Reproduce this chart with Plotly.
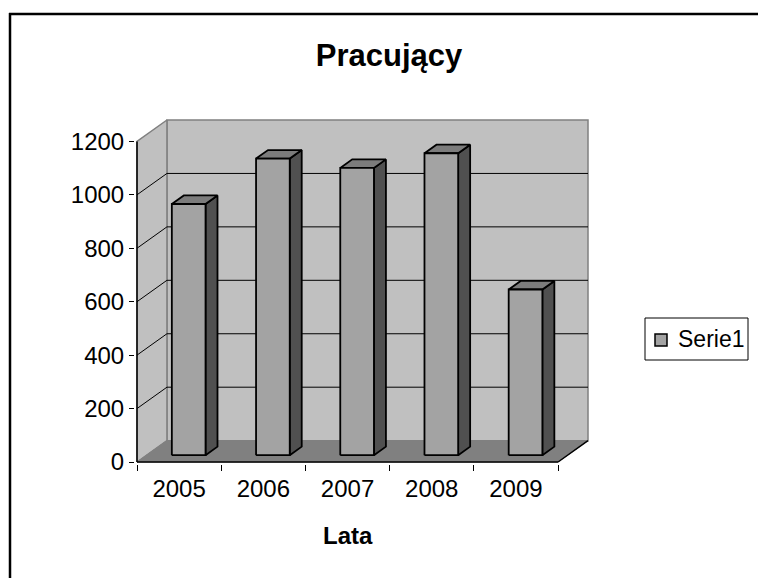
import plotly.graph_objects as go

# Data
years = ["2005", "2006", "2007", "2008", "2009"]
employed = [940, 1110, 1075, 1130, 620]
y_ticks = [0, 200, 400, 600, 800, 1000, 1200]
series_name = "Serie1"
chart_title = "Pracujący"
x_title = "Lata"

# Oblique 3D projection (in data units): depth shift of the back plane
DX = 0.3555          # x shift of the back wall, in category units
DY = 80.0            # y shift of the back wall, in value units
YMAX = 1200
N = len(years)
HALF_W = 0.2         # half bar width
F0, F1 = 0.32, 0.72  # bar depth (fraction of floor depth)

FONT = "Liberation Sans, Arial, sans-serif"

# Pixel layout of the plot area
W, H = 758, 578
PX_LEFT, PX_RIGHT = 137, 588      # x = 0 .. N + DX
PX_BOTTOM, PX_TOP = 462, 120      # y = 0 .. YMAX + DY
sx = (PX_RIGHT - PX_LEFT) / (N + DX)
sy = (PX_BOTTOM - PX_TOP) / (YMAX + DY)
PAD = 2.0
pad_x, pad_y = PAD / sx, PAD / sy
x_range = [-pad_x, N + DX + pad_x]
y_range = [-pad_y, YMAX + DY + pad_y]
m_l = PX_LEFT - PAD
m_t = PX_TOP - PAD
plot_w = (x_range[1] - x_range[0]) * sx
plot_h = (y_range[1] - y_range[0]) * sy
m_r = W - m_l - plot_w
m_b = H - m_t - plot_h


def poly(points):
    xs = [p[0] for p in points] + [points[0][0], None]
    ys = [p[1] for p in points] + [points[0][1], None]
    return xs, ys


def seg(xs, ys, a, b):
    xs += [a[0], b[0], None]
    ys += [a[1], b[1], None]


def to_paper_x(p):
    return (p - m_l) / plot_w


def to_paper_y(p):
    return (H - m_b - p) / plot_h


fig = go.Figure()

# Walls and floor
bx, by = poly([(DX, DY), (N + DX, DY), (N + DX, YMAX + DY), (DX, YMAX + DY)])
fig.add_trace(go.Scatter(x=bx, y=by, mode="lines", fill="toself", fillcolor="#C0C0C0",
                         line=dict(color="#808080", width=1.5), hoverinfo="skip", showlegend=False))
sxs, sys_ = poly([(0, 0), (DX, DY), (DX, YMAX + DY), (0, YMAX)])
fig.add_trace(go.Scatter(x=sxs, y=sys_, mode="lines", fill="toself", fillcolor="#C0C0C0",
                         line=dict(color="#808080", width=1.5), hoverinfo="skip", showlegend=False))
fx, fy = poly([(0, 0), (N, 0), (N + DX, DY), (DX, DY)])
fig.add_trace(go.Scatter(x=fx, y=fy, mode="lines", fill="toself", fillcolor="#808080",
                         line=dict(color="#808080", width=1), hoverinfo="skip", showlegend=False))

# Gridlines on back and side walls
gx, gy = [], []
for v in y_ticks[1:-1]:
    seg(gx, gy, (DX, v + DY), (N + DX, v + DY))
    seg(gx, gy, (0, v), (DX, v + DY))
fig.add_trace(go.Scatter(x=gx, y=gy, mode="lines", line=dict(color="#000000", width=1),
                         hoverinfo="skip", showlegend=False))

# Axis lines (front edges)
ax, ay = [], []
seg(ax, ay, (0, 0), (0, YMAX))
seg(ax, ay, (0, 0), (N, 0))
seg(ax, ay, (N, 0), (N + DX, DY))
fig.add_trace(go.Scatter(x=ax, y=ay, mode="lines", line=dict(color="#000000", width=1.5),
                         hoverinfo="skip", showlegend=False))

# Columns: front, side and top faces
front_x, front_y, side_x, side_y, top_x, top_y = [], [], [], [], [], []
for i, v in enumerate(employed):
    c = i + 0.5
    xl0, xr0 = c - HALF_W + F0 * DX, c + HALF_W + F0 * DX
    xl1, xr1 = c - HALF_W + F1 * DX, c + HALF_W + F1 * DX
    y0, y1 = F0 * DY, F1 * DY
    px, py = poly([(xl0, y0), (xr0, y0), (xr0, v + y0), (xl0, v + y0)])
    front_x += px; front_y += py
    px, py = poly([(xr0, y0), (xr1, y1), (xr1, v + y1), (xr0, v + y0)])
    side_x += px; side_y += py
    px, py = poly([(xl0, v + y0), (xr0, v + y0), (xr1, v + y1), (xl1, v + y1)])
    top_x += px; top_y += py

FRONT_COLOR = "#A3A3A3"
for xs, ys, col in [(side_x, side_y, "#505050"), (top_x, top_y, "#7C7C7C"),
                    (front_x, front_y, FRONT_COLOR)]:
    fig.add_trace(go.Scatter(x=xs, y=ys, mode="lines", fill="toself", fillcolor=col,
                             line=dict(color="#000000", width=1.8), hoverinfo="skip",
                             showlegend=False))

# Chart frame
frame_l, frame_t = 10, 14
fig.add_shape(type="line", xref="paper", yref="paper",
              x0=to_paper_x(frame_l), x1=to_paper_x(frame_l),
              y0=to_paper_y(frame_t - 1), y1=to_paper_y(H + 10),
              line=dict(color="#000000", width=2.5))
fig.add_shape(type="line", xref="paper", yref="paper",
              x0=to_paper_x(frame_l - 1), x1=to_paper_x(W + 10),
              y0=to_paper_y(frame_t), y1=to_paper_y(frame_t),
              line=dict(color="#000000", width=2.5))

# Legend box with a square key
fig.add_shape(type="rect", xref="paper", yref="paper",
              x0=to_paper_x(645), x1=to_paper_x(748), y0=to_paper_y(360), y1=to_paper_y(318),
              line=dict(color="#000000", width=1), fillcolor="#FFFFFF")
fig.add_shape(type="rect", xref="paper", yref="paper",
              x0=to_paper_x(655), x1=to_paper_x(667), y0=to_paper_y(346), y1=to_paper_y(334),
              line=dict(color="#000000", width=1.5), fillcolor=FRONT_COLOR)
fig.add_annotation(x=to_paper_x(676), xref="paper", y=to_paper_y(339), yref="paper",
                   text=series_name, showarrow=False, xanchor="left", yanchor="middle",
                   font=dict(family=FONT, size=23, color="#000000"))

# X-axis title
fig.add_annotation(x=N / 2, xref="x", y=to_paper_y(535), yref="paper",
                   text="<b>" + x_title + "</b>", showarrow=False,
                   font=dict(family=FONT, size=24, color="#000000"),
                   xanchor="center", yanchor="middle")

fig.update_layout(
    width=W, height=H,
    margin=dict(l=m_l, r=m_r, t=m_t, b=m_b, pad=0, autoexpand=False),
    paper_bgcolor="#FFFFFF", plot_bgcolor="rgba(0,0,0,0)",
    font=dict(family=FONT, color="#000000"),
    title=dict(text="<b>" + chart_title + "</b>", x=389 / W, xanchor="center",
               y=1 - 55 / H, yanchor="middle", font=dict(family=FONT, size=31, color="#000000")),
    showlegend=False,
)

fig.update_xaxes(range=x_range, showgrid=False, zeroline=False, showline=False,
                 automargin=False,
                 tickmode="array", tickvals=[i + 0.5 for i in range(N)], ticktext=years,
                 ticks="", tickfont=dict(family=FONT, size=24, color="#000000"),
                 ticklabelstandoff=8,
                 minor=dict(tickmode="array", tickvals=list(range(N + 1)), ticks="outside",
                            ticklen=6, tickwidth=1, tickcolor="#000000", showgrid=False))
fig.update_yaxes(range=y_range, showgrid=False, zeroline=False, showline=False,
                 automargin=False,
                 tickmode="array", tickvals=y_ticks, ticktext=[str(v) for v in y_ticks],
                 ticks="outside", ticklen=5, tickwidth=1, tickcolor="#000000",
                 tickfont=dict(family=FONT, size=24, color="#000000"),
                 ticklabelstandoff=0)

fig.write_html("out.html")
